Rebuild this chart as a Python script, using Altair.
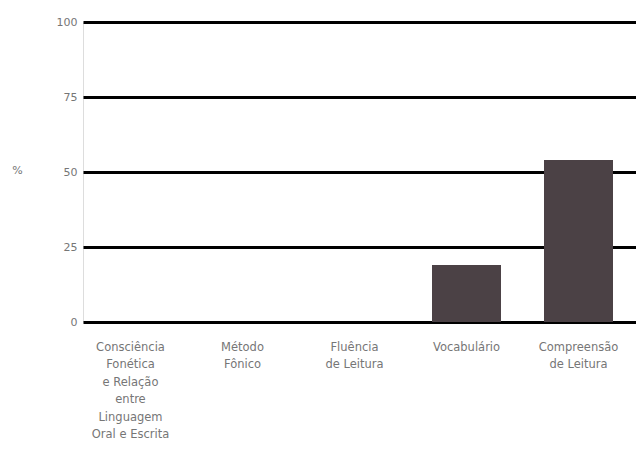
import altair as alt
import pandas as pd

categories = [
    "Consciência Fonética e Relação entre Linguagem Oral e Escrita",
    "Método Fônico",
    "Fluência de Leitura",
    "Vocabulário",
    "Compreensão de Leitura",
]
label_lines = [
    ["Consciência", "Fonética", "e Relação", "entre", "Linguagem", "Oral e Escrita"],
    ["Método", "Fônico"],
    ["Fluência", "de Leitura"],
    ["Vocabulário"],
    ["Compreensão", "de Leitura"],
]
values = [0, 0, 0, 19, 54]
y_ticks = [0, 25, 50, 75, 100]
y_title = "%"

df = pd.DataFrame({"cat": categories, "val": values})

def js_list(lst):
    return "[" + ",".join("'" + s + "'" for s in lst) + "]"

expr = "''"
for c, lines in reversed(list(zip(categories, label_lines))):
    expr = f"datum.value === '{c}' ? {js_list(lines)} : ({expr})"

FONT = "DejaVu Sans"
GRAY = "#767676"

chart = (
    alt.Chart(df)
    .mark_bar(color="#4b4145")
    .encode(
        x=alt.X(
            "cat:N",
            sort=categories,
            scale=alt.Scale(paddingInner=0.384, paddingOuter=0.1607, align=0.361),
            axis=alt.Axis(
                title=None,
                labelAngle=0,
                labelExpr=expr,
                labelFont=FONT,
                labelFontSize=11.5,
                labelColor=GRAY,
                labelLineHeight=17.5,
                labelPadding=19,
                labelLimit=0,
                labelOverlap=False,
                ticks=False,
                domain=False,
                grid=False,
            ),
        ),
        y=alt.Y(
            "val:Q",
            scale=alt.Scale(domain=[0, 100], nice=False),
            axis=alt.Axis(
                values=y_ticks,
                title=y_title,
                titleAngle=0,
                titleX=-66,
                titleY=148,
                titleAlign="center",
                titleBaseline="middle",
                titleFont=FONT,
                titleFontSize=11,
                titleFontWeight="normal",
                titleColor=GRAY,
                labelFont=FONT,
                labelFontSize=11,
                labelColor=GRAY,
                labelPadding=6,
                ticks=False,
                domain=False,
                grid=True,
                gridColor="#000000",
                gridWidth=3,
                gridOpacity=1,
            ),
        ),
    )
    .properties(
        width=553,
        height=300,
        autosize=alt.AutoSizeParams(type="none"),
        padding={"left": 75, "top": 14, "right": 0, "bottom": 119},
    )
    .configure_view(stroke=None)
    .configure(background="white")
)

chart.save("out.html", embed_options={"renderer": "svg", "actions": False})
